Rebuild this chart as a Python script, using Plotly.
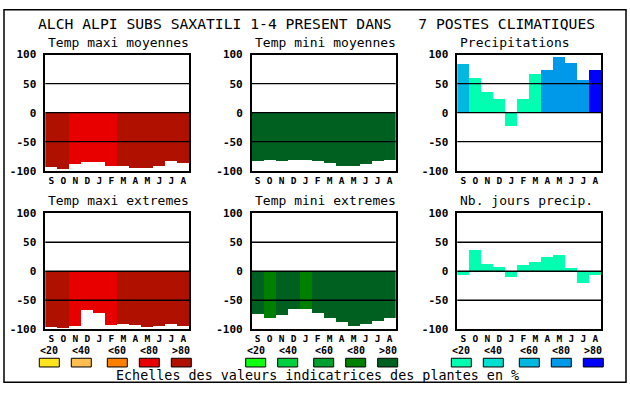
import plotly.graph_objects as go

W, H = 630, 394

months = ["S", "O", "N", "D", "J", "F", "M", "A", "M", "J", "J", "A"]
class_labels = ["<20", "<40", "<60", "<80", ">80"]

red_scale = ["#ffe41e", "#ffbe50", "#ff8000", "#e80000", "#b01000"]
green_scale = ["#10ff10", "#00d040", "#00a030", "#008000", "#006020"]
blue_scale = ["#00ffb0", "#00e0d0", "#00b8e0", "#0098e8", "#0000ff"]

title_text = "ALCH ALPI SUBS SAXATILI 1-4 PRESENT DANS   7 POSTES CLIMATIQUES"
footer_text = "Echelles des valeurs indicatrices des plantes en %"

tmax_moy = [-93, -96, -87, -84, -84, -91, -92, -94, -94, -91, -82, -86]
tmax_moy_cls = [5, 5, 4, 4, 4, 4, 5, 5, 5, 5, 5, 5]
tmin_moy = [-82, -81, -82, -81, -81, -82, -86, -92, -91, -87, -82, -81]
tmin_moy_cls = [5] * 12
precip = [84, 60, 37, 25, -22, 25, 67, 75, 96, 87, 57, 75]
precip_cls = [3, 1, 1, 1, 1, 1, 1, 4, 4, 4, 4, 5]
tmax_ext = [-96, -98, -94, -68, -73, -93, -91, -93, -96, -94, -91, -94]
tmax_ext_cls = [5, 5, 4, 4, 4, 4, 5, 5, 5, 5, 5, 5]
tmin_ext = [-74, -81, -76, -66, -66, -73, -81, -88, -94, -91, -86, -81]
tmin_ext_cls = [5, 4, 5, 5, 4, 5, 5, 5, 5, 5, 5, 5]
jours_precip = [-6, 37, 12, 7, -11, 10, 15, 24, 27, 6, -21, -6]
jours_precip_cls = [1] * 12

y_ticks = [-100, -50, 0, 50, 100]
grid_levels = [-50, 0, 50]

panels = [
    ("Temp maxi moyennes", tmax_moy, tmax_moy_cls, red_scale),
    ("Temp mini moyennes", tmin_moy, tmin_moy_cls, green_scale),
    ("Precipitations", precip, precip_cls, blue_scale),
    ("Temp maxi extremes", tmax_ext, tmax_ext_cls, red_scale),
    ("Temp mini extremes", tmin_ext, tmin_ext_cls, green_scale),
    ("Nb. jours precip.", jours_precip, jours_precip_cls, blue_scale),
]

MONO = "DejaVu Sans Mono"
col_left = [45.3, 251.7, 457.3]
plot_w = 144
row_top = [50.3, 214.3]
plot_h = 120

fig = go.Figure()
shapes = []
annotations = []
xs = list(range(len(months)))

for i, (name, vals, cls, scale) in enumerate(panels):
    r, c = divmod(i, 3)
    n = i + 1
    xa = "x" if n == 1 else f"x{n}"
    ya = "y" if n == 1 else f"y{n}"
    fig.add_trace(go.Bar(
        x=xs, y=vals, width=1,
        marker=dict(color=[scale[k - 1] for k in cls], line=dict(width=0)),
        xaxis=xa, yaxis=ya, showlegend=False, hoverinfo="skip",
    ))
    x0 = col_left[c] / W
    x1 = (col_left[c] + plot_w) / W
    y1 = 1 - row_top[r] / H
    y0 = 1 - (row_top[r] + plot_h) / H
    xkey = "xaxis" if n == 1 else f"xaxis{n}"
    ykey = "yaxis" if n == 1 else f"yaxis{n}"
    fig.layout[xkey] = dict(
        domain=[x0, x1], anchor=ya, range=[-0.5, len(months) - 0.5],
        tickvals=xs, ticktext=months, showgrid=False, zeroline=False,
        showline=True, mirror=True, linecolor="black", linewidth=1.5,
        ticks="", ticklabelstandoff=0,
        tickfont=dict(family=MONO, size=9.5, color="black", weight="bold"),
        fixedrange=True,
    )
    fig.layout[ykey] = dict(
        domain=[y0, y1], anchor=xa, range=[-100, 100],
        tickvals=y_ticks, ticktext=[str(v) for v in y_ticks],
        showgrid=False, zeroline=False,
        showline=True, mirror=True, linecolor="black", linewidth=1.5,
        ticks="", ticklabelstandoff=5,
        tickfont=dict(family=MONO, size=11, color="black", weight="bold"),
        fixedrange=True,
    )
    for g in grid_levels:
        shapes.append(dict(type="line", xref=f"{xa} domain", yref=ya,
                           x0=0, x1=1, y0=g, y1=g, layer="above",
                           line=dict(color="black", width=1.3)))
    annotations.append(dict(
        text=name, xref="paper", yref="paper",
        x=(col_left[c] + 1) / W, y=1 - (row_top[r] - 13) / H,
        xanchor="left", yanchor="middle", showarrow=False,
        font=dict(family=MONO, size=13, color="black"),
    ))

# legend scales under each column
scales = [red_scale, green_scale, blue_scale]
sw_offsets = [-6, 26, 62, 94, 126]
for c, scale in enumerate(scales):
    for k, col in enumerate(scale):
        sx = col_left[c] + sw_offsets[k]
        shapes.append(dict(type="rect", xref="paper", yref="paper",
                           x0=sx / W, x1=(sx + 20) / W,
                           y0=1 - 373.3 / H, y1=1 - 364.3 / H,
                           fillcolor=col, line=dict(color="black", width=1)))
        annotations.append(dict(
            text=class_labels[k], xref="paper", yref="paper",
            x=(sx + 10) / W, y=1 - 355.8 / H, xanchor="center", yanchor="middle",
            showarrow=False, borderpad=0,
            font=dict(family=MONO, size=10, color="black", weight="bold"),
        ))

annotations.append(dict(
    text=title_text, xref="paper", yref="paper", x=316 / W, y=1 - 18.3 / H,
    xanchor="center", yanchor="middle", showarrow=False,
    font=dict(family=MONO, size=14.7, color="black"),
))
annotations.append(dict(
    text=footer_text, xref="paper", yref="paper", x=317 / W, y=1 - 382.3 / H,
    xanchor="center", yanchor="middle", showarrow=False,
    font=dict(family=MONO, size=13.4, color="black"),
))

# outer frame
shapes.append(dict(type="rect", xref="paper", yref="paper",
                   x0=4 / W, x1=626 / W, y0=1 - 389 / H, y1=1 - 4 / H,
                   line=dict(color="black", width=1.5), layer="above"))

fig.update_layout(
    width=W, height=H, margin=dict(l=0, r=0, t=0, b=0),
    paper_bgcolor="white", plot_bgcolor="white",
    bargap=0, shapes=shapes, annotations=annotations,
    font=dict(family=MONO, color="black"),
)

fig.write_html(
    "out.html",
    config={"displayModeBar": False},
    post_script="document.body.style.margin='0';document.body.style.overflow='hidden';",
)
